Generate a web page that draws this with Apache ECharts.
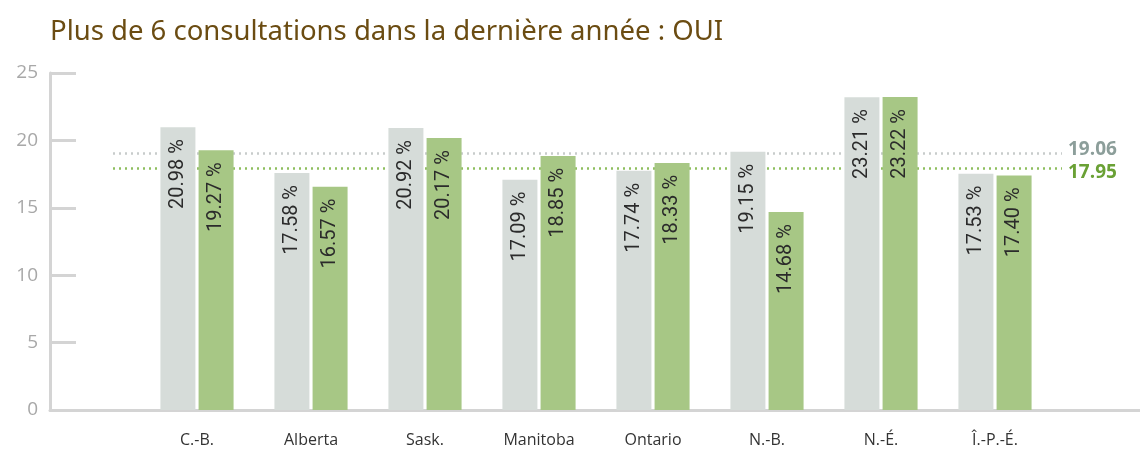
<!DOCTYPE html>
<html><head><meta charset="utf-8">
<script src="https://cdn.jsdelivr.net/npm/echarts@6/dist/echarts.min.js"></script>
<style>html,body{margin:0;padding:0;background:#fff}#c{width:1140px;height:453px}</style>
</head><body><div id="c"></div>
<script>
const categories = ['C.-B.', 'Alberta', 'Sask.', 'Manitoba', 'Ontario', 'N.-B.', 'N.-É.', 'Î.-P.-É.'];
const seriesGrey = [20.98, 17.58, 20.92, 17.09, 17.74, 19.15, 23.21, 17.53];
const seriesGreen = [19.27, 16.57, 20.17, 18.85, 18.33, 14.68, 23.22, 17.40];
const refGrey = 19.06;
const refGreen = 17.95;
const yTicks = [0, 5, 10, 15, 20, 25];
const title = 'Plus de 6 consultations dans la dernière année : OUI';

const chart = echarts.init(document.getElementById('c'), null, {renderer: 'canvas'});
const FONT = '"Open Sans", "Noto Sans", sans-serif';
const labelCfg = {
  show: true, position: 'insideTop', rotate: 90, align: 'right', verticalAlign: 'middle',
  distance: 12, color: '#2b2b2b', fontSize: 20, fontFamily: 'Roboto, sans-serif',
  formatter: p => p.value.toFixed(2) + ' %'
};
chart.setOption({
  animation: false,
  title: {text: title, left: 45, top: 13, textStyle: {color: '#6b4c12', fontSize: 27.5, fontWeight: 'normal', fontFamily: '"Noto Sans", sans-serif'}},
  grid: [
    {left: 140, right: 88, top: 73, bottom: 43},
    {left: 50, right: 0, top: 73, bottom: 43},
    {left: 113, right: 78, top: 73, bottom: 43}
  ],
  xAxis: [
    {gridIndex: 0, type: 'category', data: categories, axisLine: {show: false}, axisTick: {show: false},
     axisLabel: {color: '#333', fontSize: 16, fontFamily: FONT, margin: 22}},
    {gridIndex: 1, type: 'value', min: 0, max: 1, axisLine: {show: true, lineStyle: {color: '#d4d4d4', width: 3}},
     axisTick: {show: false}, axisLabel: {show: false}, splitLine: {show: false}},
    {gridIndex: 2, type: 'value', min: 0, max: 1, show: false}
  ],
  yAxis: [
    {gridIndex: 0, type: 'value', min: 0, max: 25, interval: 5, offset: 90,
     axisLine: {show: true, lineStyle: {color: '#d4d4d4', width: 3}},
     axisTick: {show: true, inside: true, length: 26, lineStyle: {color: '#d4d4d4', width: 3}},
     axisLabel: {color: '#a8a8a8', fontSize: 19, fontFamily: FONT, margin: 12,
                 formatter: v => yTicks.includes(v) ? String(v) : ''},
     splitLine: {show: false}},
    {gridIndex: 1, type: 'value', min: 0, max: 25, show: false},
    {gridIndex: 2, type: 'value', min: 0, max: 25, show: false}
  ],
  series: [
    {type: 'bar', name: 'grey', xAxisIndex: 0, yAxisIndex: 0, data: seriesGrey, barWidth: 35, barGap: '9%',
     itemStyle: {color: '#d6dcd9'}, label: labelCfg, z: 3},
    {type: 'bar', name: 'green', xAxisIndex: 0, yAxisIndex: 0, data: seriesGreen, barWidth: 35,
     itemStyle: {color: '#a7c785'}, label: labelCfg, z: 3},
    {type: 'line', name: 'refs', xAxisIndex: 2, yAxisIndex: 2, data: [], silent: true,
     markLine: {symbol: 'none', silent: true, z: 1,
       data: [
         {yAxis: refGrey, lineStyle: {color: '#c8cccb', type: [2, 4], width: 2.5},
          label: {show: true, position: 'end', distance: 6, offset: [0, -3], formatter: refGrey.toFixed(2), color: '#8c9e9a', fontWeight: 'bold', fontSize: 19, fontFamily: FONT}},
         {yAxis: refGreen, lineStyle: {color: '#8fbf5f', type: [2, 4], width: 2.5},
          label: {show: true, position: 'end', distance: 6, offset: [0, 5], formatter: refGreen.toFixed(2), color: '#6aa135', fontWeight: 'bold', fontSize: 19, fontFamily: FONT}}
       ]}}
  ]
});
</script></body></html>
